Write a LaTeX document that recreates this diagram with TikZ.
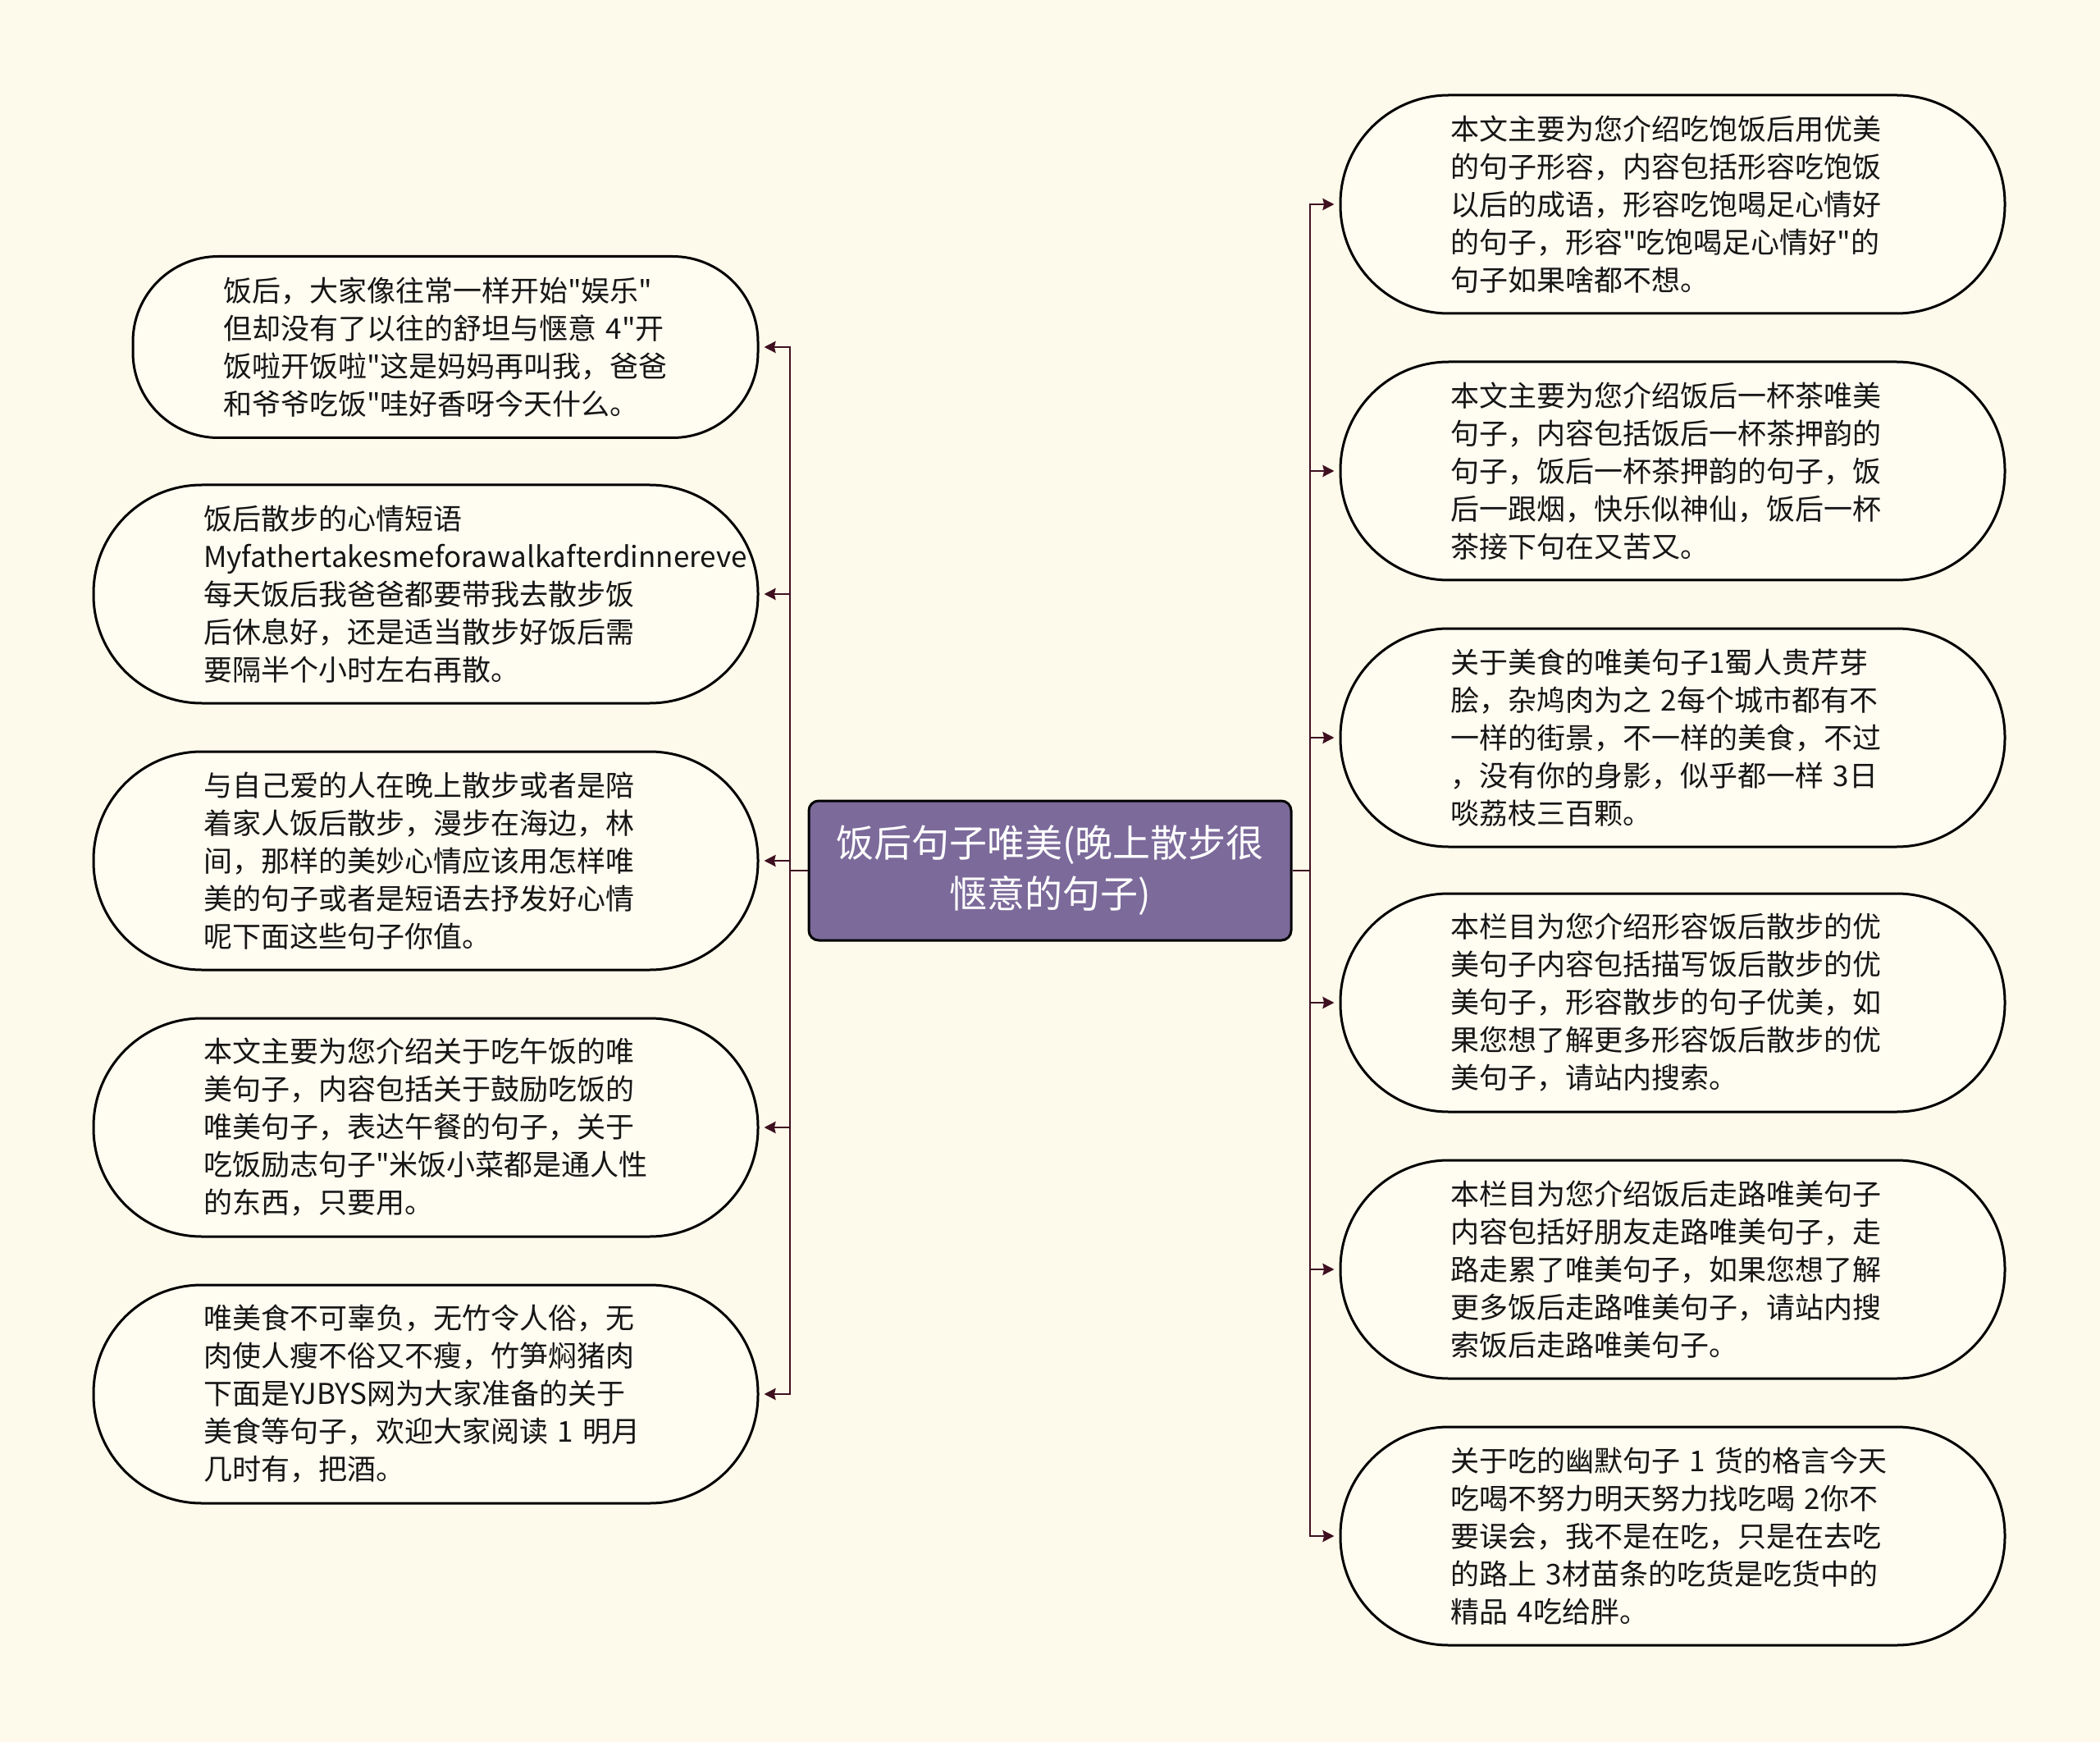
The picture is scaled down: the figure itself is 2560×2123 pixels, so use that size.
\documentclass[tikz,border=0pt]{standalone}
\usepackage{fontspec}
\newfontfamily\cjkfont{Noto Sans CJK SC}
\usetikzlibrary{arrows.meta}

\definecolor{bgcream}{RGB}{253,250,235}
\definecolor{leafcream}{RGB}{255,252,241}
\definecolor{rootpurple}{RGB}{123,106,154}
\definecolor{linkred}{RGB}{62,16,32}
\definecolor{inkgrey}{RGB}{22,22,22}

\tikzset{
    leaf/.style = {draw = black, line width = 1.5pt, fill = leafcream, rounded corners = 66pt,
        minimum width = 405pt, minimum height = 133pt, inner sep = 0pt, text width = 271pt,
        align = left, text = inkgrey, font = \cjkfont\fontsize{17.5pt}{23pt}\selectfont},
    root/.style = {draw = black, line width = 1.5pt, fill = rootpurple, rounded corners = 6pt,
        minimum width = 294pt, minimum height = 85pt, inner sep = 0pt, align = center,
        text = white, font = \cjkfont\fontsize{23pt}{31pt}\selectfont},
    link/.style = {draw = linkred, line width = 1.4pt},
}

\begin{document}
\begin{tikzpicture}[x = 0.5pt, y = -0.5pt, >= {Stealth[length = 7pt, width = 7pt, inset = 0.8pt]}]
    \fill [bgcream] (0, 0) rectangle (2560, 2123);

    \node [root] (root) at (1280, 1061) {饭后句子唯美(晚上散步很\\惬意的句子)};

    \node [leaf, minimum width = 381pt, minimum height = 110.5pt, rounded corners = 52pt] (l1) at (543, 423)
        {饭后，大家像往常一样开始"娱乐"\\但却没有了以往的舒坦与惬意 4"开\\饭啦开饭啦"这是妈妈再叫我，爸爸\\和爷爷吃饭"哇好香呀今天什么。};
    \node [leaf] (l2) at (519, 724)
        {饭后散步的心情短语\\Myfathertakesmeforawalkafterdinnereve\\每天饭后我爸爸都要带我去散步饭\\后休息好，还是适当散步好饭后需\\要隔半个小时左右再散。};
    \node [leaf] (l3) at (519, 1049)
        {与自己爱的人在晚上散步或者是陪\\着家人饭后散步，漫步在海边，林\\间，那样的美妙心情应该用怎样唯\\美的句子或者是短语去抒发好心情\\呢下面这些句子你值。};
    \node [leaf] (l4) at (519, 1374)
        {本文主要为您介绍关于吃午饭的唯\\美句子，内容包括关于鼓励吃饭的\\唯美句子，表达午餐的句子，关于\\吃饭励志句子"米饭小菜都是通人性\\的东西，只要用。};
    \node [leaf] (l5) at (519, 1699)
        {唯美食不可辜负，无竹令人俗，无\\肉使人瘦不俗又不瘦，竹笋焖猪肉\\下面是YJBYS网为大家准备的关于\\美食等句子，欢迎大家阅读 1 明月\\几时有，把酒。};

    \node [leaf] (r1) at (2039, 249)
        {本文主要为您介绍吃饱饭后用优美\\的句子形容，内容包括形容吃饱饭\\以后的成语，形容吃饱喝足心情好\\的句子，形容"吃饱喝足心情好"的\\句子如果啥都不想。};
    \node [leaf] (r2) at (2039, 574)
        {本文主要为您介绍饭后一杯茶唯美\\句子，内容包括饭后一杯茶押韵的\\句子，饭后一杯茶押韵的句子，饭\\后一跟烟，快乐似神仙，饭后一杯\\茶接下句在又苦又。};
    \node [leaf] (r3) at (2039, 899)
        {关于美食的唯美句子1蜀人贵芹芽\\脍，杂鸠肉为之 2每个城市都有不\\一样的街景，不一样的美食，不过\\，没有你的身影，似乎都一样 3日\\啖荔枝三百颗。};
    \node [leaf] (r4) at (2039, 1222)
        {本栏目为您介绍形容饭后散步的优\\美句子内容包括描写饭后散步的优\\美句子，形容散步的句子优美，如\\果您想了解更多形容饭后散步的优\\美句子，请站内搜索。};
    \node [leaf] (r5) at (2039, 1547)
        {本栏目为您介绍饭后走路唯美句子\\内容包括好朋友走路唯美句子，走\\路走累了唯美句子，如果您想了解\\更多饭后走路唯美句子，请站内搜\\索饭后走路唯美句子。};
    \node [leaf] (r6) at (2039, 1872)
        {关于吃的幽默句子 1 货的格言今天\\吃喝不努力明天努力找吃喝 2你不\\要误会，我不是在吃，只是在去吃\\的路上 3材苗条的吃货是吃货中的\\精品 4吃给胖。};

    \coordinate (lfork) at (963, 1061);
    \coordinate (rfork) at (1597, 1061);

    \draw [link] (root.west) -- (lfork);
    \draw [link, ->, shorten > = 3pt] (lfork) |- (l1.east);
    \draw [link, ->, shorten > = 3pt] (lfork) |- (l2.east);
    \draw [link, ->, shorten > = 3pt] (lfork) |- (l3.east);
    \draw [link, ->, shorten > = 3pt] (lfork) |- (l4.east);
    \draw [link, ->, shorten > = 3pt] (lfork) |- (l5.east);

    \draw [link] (root.east) -- (rfork);
    \draw [link, ->, shorten > = 3pt] (rfork) |- (r1.west);
    \draw [link, ->, shorten > = 3pt] (rfork) |- (r2.west);
    \draw [link, ->, shorten > = 3pt] (rfork) |- (r3.west);
    \draw [link, ->, shorten > = 3pt] (rfork) |- (r4.west);
    \draw [link, ->, shorten > = 3pt] (rfork) |- (r5.west);
    \draw [link, ->, shorten > = 3pt] (rfork) |- (r6.west);
\end{tikzpicture}
\end{document}
